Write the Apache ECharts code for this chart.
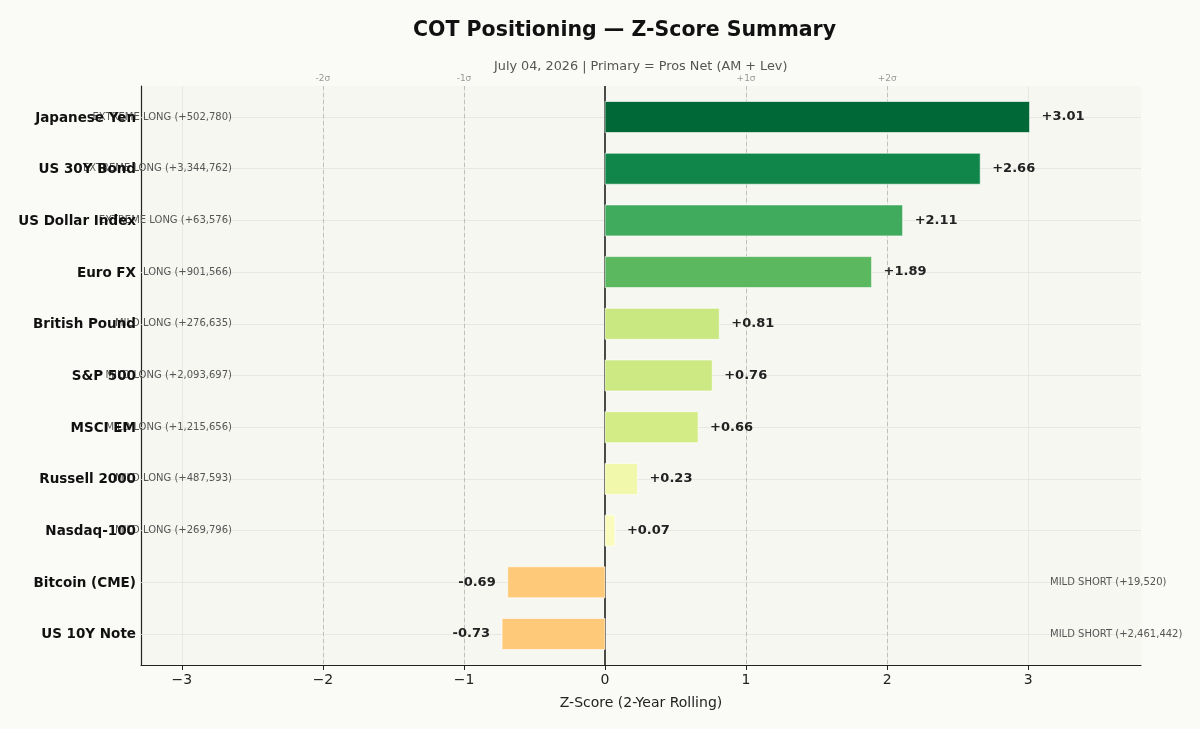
<!DOCTYPE html>
<html>
<head>
<meta charset="utf-8">
<script src="https://cdn.jsdelivr.net/npm/echarts@6/dist/echarts.min.js"></script>
<style>
  html, body { margin: 0; padding: 0; background: #fafaf6; }
  #main { width: 1200px; height: 729px; }
</style>
</head>
<body>
<div id="main"></div>
<script>
// data, top row first
var markets = ['Japanese Yen', 'US 30Y Bond', 'US Dollar Index', 'Euro FX', 'British Pound',
               'S&P 500', 'MSCI EM', 'Russell 2000', 'Nasdaq-100', 'Bitcoin (CME)', 'US 10Y Note'];
var zScores = [3.01, 2.66, 2.11, 1.89, 0.81, 0.76, 0.66, 0.23, 0.07, -0.69, -0.73];
var regimes = ['EXTREME LONG', 'EXTREME LONG', 'EXTREME LONG', 'LONG', 'MILD LONG',
               'MILD LONG', 'MILD LONG', 'MILD LONG', 'MILD LONG', 'MILD SHORT', 'MILD SHORT'];
var netPos = [502780, 3344762, 63576, 901566, 276635, 2093697, 1215656, 487593, 269796, 19520, 2461442];
var xTicks = [-3, -2, -1, 0, 1, 2, 3];
var sigmaLines = [-2, -1, 1, 2];
var sigmaLabels = ['-2σ', '-1σ', '+1σ', '+2σ'];

var barColors = ['#006837', '#11864a', '#40ab5c', '#5cb85f', '#c9e881', '#cde983',
                 '#d4ec86', '#f1f8ab', '#fafcbe', '#fec978', '#fec978'];

var FONT = '"DejaVu Sans", sans-serif';

function fmtNum(n) {
  return (n >= 0 ? '+' : '-') + Math.abs(n).toString().replace(/\B(?=(\d{3})+(?!\d))/g, ',');
}

var chart = echarts.init(document.getElementById('main'));

function txt(s) {
  // plain text, no outline
  s.stroke = null;
  s.lineWidth = 0;
  s.fontFamily = FONT;
  return { type: 'text', style: s };
}

function renderBar(params, api) {
  var i = params.dataIndex;
  var v = api.value(0);
  var row = api.value(1);
  var p0 = api.coord([0, row]);
  var p1 = api.coord([v, row]);
  var h = api.size([0, 0.6])[1];
  var left = params.coordSys.x;
  var longSide = v >= 0;
  var posX = api.coord([longSide ? -2.645 : 3.155, row])[0];
  return {
    type: 'group',
    children: [{
      type: 'rect',
      shape: { x: Math.min(p0[0], p1[0]), y: p0[1] - h / 2, width: Math.abs(p1[0] - p0[0]), height: h },
      style: { fill: barColors[i], stroke: '#ffffff', lineWidth: 0.6 }
    }, txt({
      text: (v >= 0 ? '+' : '') + v.toFixed(2),
      x: longSide ? p1[0] + 12 : p1[0] - 12, y: p0[1],
      align: longSide ? 'left' : 'right', verticalAlign: 'middle',
      fontSize: 13, fontWeight: 'bold', fill: '#222'
    }), txt({
      text: regimes[i] + ' (' + fmtNum(netPos[i]) + ')',
      x: posX, y: p0[1],
      align: longSide ? 'right' : 'left', verticalAlign: 'middle',
      fontSize: 10, fill: '#555'
    }), txt({
      text: markets[i],
      x: left - 5, y: p0[1] + 1,
      align: 'right', verticalAlign: 'middle',
      fontSize: 13.5, fontWeight: 'bold', fill: '#111'
    })]
  };
}

var gridLines = [];
markets.forEach(function (m, i) {
  gridLines.push({ yAxis: i, lineStyle: { color: '#e2e2de', width: 0.8, type: 'solid' } });
});
xTicks.forEach(function (t) {
  if (t !== 0) gridLines.push({ xAxis: t, lineStyle: { color: '#e2e2de', width: 0.8, type: 'solid' } });
});
sigmaLines.forEach(function (t, k) {
  gridLines.push({
    xAxis: t,
    lineStyle: { color: '#b5b5b5', width: 0.8, type: [4, 3] },
    label: { show: true, formatter: sigmaLabels[k], position: 'start', distance: 3,
             color: '#999', fontSize: 9, fontFamily: FONT }
  });
});
gridLines.push({ xAxis: 0, lineStyle: { color: '#111', width: 1.5, type: 'solid' } });

chart.setOption({
  backgroundColor: '#fafaf6',
  animation: false,
  textStyle: { fontFamily: FONT },
  title: [{
    text: 'COT Positioning — Z-Score Summary',
    left: 408, top: 15,
    textStyle: { fontSize: 20.5, fontWeight: 'bold', color: '#111', fontFamily: FONT }
  }, {
    text: 'July 04, 2026 | Primary = Pros Net (AM + Lev)',
    left: 489, top: 55,
    textStyle: { fontSize: 12.8, fontWeight: 'normal', color: '#555', fontFamily: FONT }
  }],
  grid: {
    left: 141, right: 59, top: 86, bottom: 64,
    show: true, backgroundColor: '#f7f7f2', borderWidth: 0
  },
  xAxis: {
    type: 'value', min: -3.29, max: 3.8,
    name: 'Z-Score (2-Year Rolling)', nameLocation: 'middle', nameGap: 31,
    nameTextStyle: { fontSize: 14, color: '#222', fontFamily: FONT },
    axisLine: { show: true, onZero: false, lineStyle: { color: '#222', width: 1.2 } },
    axisTick: { show: true, customValues: xTicks, length: 5, lineStyle: { color: '#222' } },
    axisLabel: {
      customValues: xTicks, fontSize: 14, color: '#222', margin: 8,
      formatter: function (v) { return v < 0 ? '\u2212' + Math.abs(v) : String(v); }
    },
    splitLine: { show: false }
  },
  yAxis: {
    type: 'value', min: -0.6, max: 10.6, inverse: true,
    axisLine: { show: true, onZero: false, lineStyle: { color: '#222', width: 1.2 } },
    axisTick: { show: false }, axisLabel: { show: false }, splitLine: { show: false }
  },
  series: [{
    type: 'line', data: [], z: 1, silent: true,
    markLine: { symbol: 'none', silent: true, z: 1, label: { show: false }, data: gridLines }
  }, {
    type: 'custom', z: 5, clip: false,
    renderItem: renderBar,
    encode: { x: 0, y: 1 },
    data: zScores.map(function (z, i) { return [z, i]; })
  }]
});
</script>
</body>
</html>
